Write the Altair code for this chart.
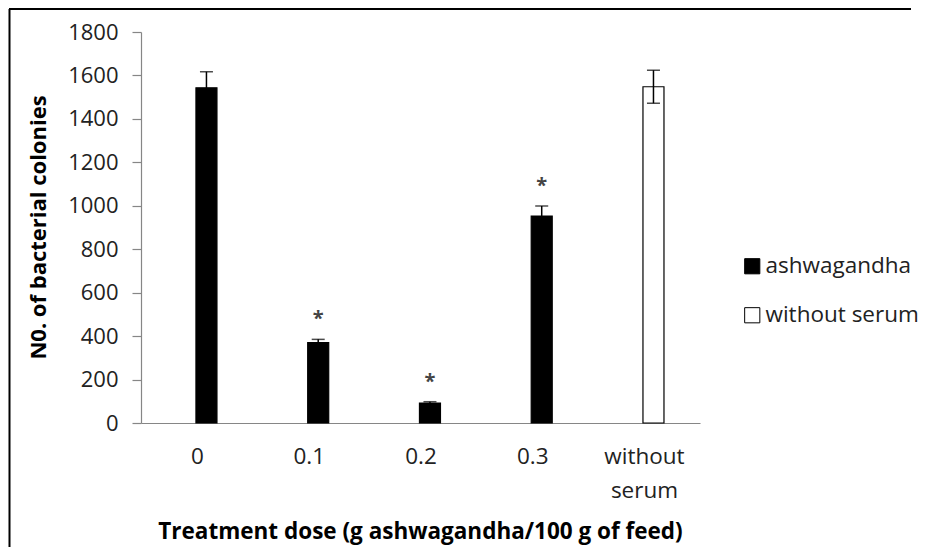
import altair as alt
import pandas as pd

categories = ["0", "0.1", "0.2", "0.3", "without serum"]
series = ["ashwagandha", "ashwagandha", "ashwagandha", "ashwagandha", "without serum"]
means = [1543, 370, 92, 953, 1548]
errors = [74, 15, 6, 46, 76]
significant = [False, True, True, True, False]
y_ticks = [0, 200, 400, 600, 800, 1000, 1200, 1400, 1600, 1800]

df = pd.DataFrame({
    "cat": categories,
    "series": series,
    "mean": means,
    "err": errors,
    "sig": significant,
})
df["lo"] = df["mean"] - df["err"]
df["hi"] = df["mean"] + df["err"]

FONT = "Open Sans"
TXT = "#222222"

xenc = alt.X(
    "cat:N",
    sort=categories,
    scale=alt.Scale(paddingInner=0.812, paddingOuter=0.407, align=0.604),
    axis=alt.Axis(
        title="Treatment dose (g ashwagandha/100 g of feed)",
        labelAngle=0,
        ticks=False,
        labelPadding=22,
        labelOffset=-9,
        labelFont=FONT,
        labelColor=TXT,
        labelFontSize=22.5,
        labelLineHeight=34,
        labelExpr="datum.label == 'without serum' ? ['without', 'serum'] : datum.label",
        titleFont=FONT,
        titleColor="black",
        titleFontSize=22.5,
        titleFontWeight="bold",
        titleX=279,
        titleY=108,
        titleBaseline="middle",
    ),
)
yscale = alt.Scale(domain=[0, 1800], nice=False)

base = alt.Chart(df)

bars = base.mark_bar(stroke="black", strokeWidth=1.2).encode(
    x=xenc,
    y=alt.Y(
        "mean:Q",
        scale=yscale,
        axis=alt.Axis(
            title="N0. of bacterial colonies",
            values=y_ticks,
            format="d",
            grid=False,
            tickSize=9,
            labelPadding=14,
            labelFont=FONT,
            labelColor=TXT,
            labelFontSize=22,
            titleFont=FONT,
            titleColor="black",
            titleFontSize=22,
            titleFontWeight="bold",
            titleX=-103,
            titleY=195,
            titleBaseline="middle",
        ),
    ),
    fill=alt.Fill(
        "series:N",
        scale=alt.Scale(domain=["ashwagandha", "without serum"], range=["black", "white"]),
        legend=alt.Legend(
            title=None,
            orient="none",
            legendX=600,
            legendY=223,
            symbolType="square",
            symbolSize=230,
            symbolStrokeColor="black",
            symbolStrokeWidth=1,
            labelFontSize=22.5,
            labelFont=FONT,
            labelColor=TXT,
            labelOffset=2,
            rowPadding=26,
            padding=0,
        ),
    ),
)

rules = base.mark_rule(color="black", strokeWidth=1.5).encode(
    x=alt.X("cat:N", sort=categories),
    y=alt.Y("lo:Q", scale=yscale),
    y2="hi:Q",
)
cap_hi = base.mark_tick(color="black", size=13, thickness=1.5).encode(
    x=alt.X("cat:N", sort=categories),
    y=alt.Y("hi:Q", scale=yscale),
)
cap_lo = base.mark_tick(color="black", size=13, thickness=1.5).encode(
    x=alt.X("cat:N", sort=categories),
    y=alt.Y("lo:Q", scale=yscale),
)
stars = base.transform_filter("datum.sig").mark_text(
    text="*", fontSize=20, fontWeight="bold", font=FONT, color="#444444", dy=-20, baseline="middle"
).encode(
    x=alt.X("cat:N", sort=categories),
    y=alt.Y("hi:Q", scale=yscale),
)

frame_df = pd.DataFrame({"k": [0]})
frame_left = alt.Chart(frame_df).mark_rule(color="black", strokeWidth=2).encode(
    x=alt.value(-131.5), y=alt.value(-23), y2=alt.value(520)
)
frame_top = alt.Chart(frame_df).mark_rule(color="black", strokeWidth=2).encode(
    x=alt.value(-132), x2=alt.value(770), y=alt.value(-23)
)

chart = alt.layer(bars, rules, cap_hi, cap_lo, stars, frame_left, frame_top).properties(
    width=559,
    height=391,
    background="white",
    autosize=alt.AutoSizeParams(type="none"),
    padding={"left": 133, "top": 24, "right": 222, "bottom": 124},
).configure_axis(
    domainColor="#868686",
    tickColor="#868686",
    domainWidth=1.2,
    tickWidth=1.2,
).configure_view(strokeWidth=0)

chart.save("out.html", embed_options={"renderer": "svg", "actions": False})
